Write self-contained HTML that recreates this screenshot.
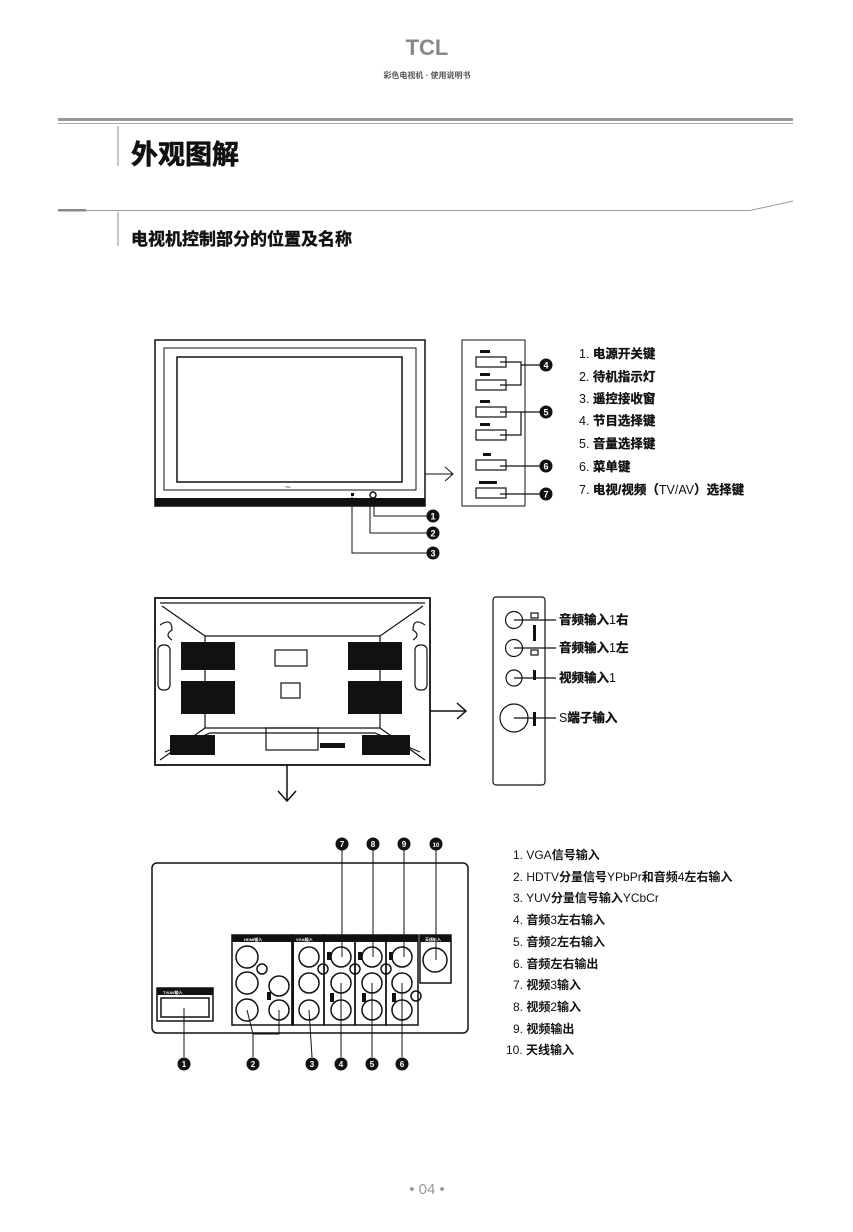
<!DOCTYPE html>
<html><head><meta charset="utf-8"><style>
html,body{margin:0;padding:0;background:#fff}
svg{display:block}
text{font-family:"Liberation Sans","Noto Sans CJK SC",sans-serif}
.b{font-weight:bold}
</style></head><body>
<svg width="853" height="1232" viewBox="0 0 853 1232" xmlns="http://www.w3.org/2000/svg">
<!-- header -->
<text x="427" y="55" text-anchor="middle" font-size="22" font-weight="bold" fill="#888">TCL</text>
<text x="427" y="78" text-anchor="middle" font-size="8" font-weight="bold" fill="#555">彩色电视机 · 使用说明书</text>
<rect x="58" y="118" width="735" height="3" fill="#999"/>
<rect x="58" y="123" width="735" height="1" fill="#aaa"/>
<line x1="118" y1="126" x2="118" y2="166" stroke="#888" stroke-width="1"/>
<text x="131" y="164" font-size="27" font-weight="bold" fill="#111" stroke="#111" stroke-width="0.6">外观图解</text>
<rect x="58" y="209" width="28" height="2.5" fill="#888"/>
<polyline points="86,210.5 750,210.5 793,201" fill="none" stroke="#999" stroke-width="1"/>
<line x1="118" y1="212" x2="118" y2="246" stroke="#888"/>
<text x="131" y="245" font-size="17" font-weight="bold" fill="#111" stroke="#111" stroke-width="0.4">电视机控制部分的位置及名称</text>

<!-- front TV -->
<g fill="none" stroke="#111">
<rect x="155" y="340" width="270" height="166" stroke-width="1.5"/>
<rect x="164" y="348" width="252" height="142" stroke-width="1"/>
<rect x="177" y="357" width="225" height="125" stroke-width="1.5"/>
</g>
<rect x="155" y="498" width="270" height="8" fill="#111"/>
<text x="288" y="488" font-size="3" text-anchor="middle">TCL</text>
<rect x="351" y="493" width="3" height="3" fill="#111"/>
<circle cx="373" cy="495" r="3" fill="none" stroke="#111" stroke-width="1.5"/>
<g stroke="#111" fill="none" stroke-width="1">
<polyline points="374,498 374,516 428,516"/>
<polyline points="370,498 370,533 428,533"/>
<polyline points="352,497 352,553 428,553"/>
<polyline points="425,474 452,474"/><polyline points="445,467 453,474 445,481"/>
</g>
<g font-size="9" font-weight="bold" fill="#fff" text-anchor="middle">
<circle cx="433" cy="516" r="6.5" fill="#111"/><text x="433" y="519.5">1</text>
<circle cx="433" cy="533" r="6.5" fill="#111"/><text x="433" y="536.5">2</text>
<circle cx="433" cy="553" r="6.5" fill="#111"/><text x="433" y="556.5">3</text>
</g>
<!-- panel -->
<rect x="462" y="340" width="63" height="166" fill="none" stroke="#111"/>
<g fill="none" stroke="#111" stroke-width="1.2">
<rect x="476" y="357" width="30" height="10"/>
<rect x="476" y="380" width="30" height="10"/>
<rect x="476" y="407" width="30" height="10"/>
<rect x="476" y="430" width="30" height="10"/>
<rect x="476" y="460" width="30" height="10"/>
<rect x="476" y="488" width="30" height="10"/>
<polyline points="500,362 521,362 521,385 500,385"/><line x1="521" y1="365" x2="540" y2="365"/>
<polyline points="500,412 521,412 521,435 500,435"/><line x1="521" y1="412" x2="540" y2="412"/>
<line x1="500" y1="466" x2="540" y2="466"/>
<line x1="500" y1="494" x2="540" y2="494"/>
</g>
<g fill="#111"><rect x="480" y="350" width="10" height="3"/><rect x="480" y="373" width="10" height="3"/><rect x="480" y="400" width="10" height="3"/><rect x="480" y="423" width="10" height="3"/><rect x="483" y="453" width="8" height="3"/><rect x="479" y="481" width="18" height="3"/></g>
<g font-size="9" font-weight="bold" fill="#fff" text-anchor="middle">
<circle cx="546" cy="365" r="6.5" fill="#111"/><text x="546" y="368.5">4</text>
<circle cx="546" cy="412" r="6.5" fill="#111"/><text x="546" y="415.5">5</text>
<circle cx="546" cy="466" r="6.5" fill="#111"/><text x="546" y="469.5">6</text>
<circle cx="546" cy="494" r="6.5" fill="#111"/><text x="546" y="497.5">7</text>
</g>
<g font-size="12.5" fill="#111">
<text x="579" y="358">1.  <tspan class="b" stroke="#111" stroke-width="0.3">电源开关键</tspan></text>
<text x="579" y="381">2.  <tspan class="b" stroke="#111" stroke-width="0.3">待机指示灯</tspan></text>
<text x="579" y="403">3.  <tspan class="b" stroke="#111" stroke-width="0.3">遥控接收窗</tspan></text>
<text x="579" y="425">4.  <tspan class="b" stroke="#111" stroke-width="0.3">节目选择键</tspan></text>
<text x="579" y="448">5.  <tspan class="b" stroke="#111" stroke-width="0.3">音量选择键</tspan></text>
<text x="579" y="471">6.  <tspan class="b" stroke="#111" stroke-width="0.3">菜单键</tspan></text>
<text x="579" y="494">7.  <tspan class="b" stroke="#111" stroke-width="0.3">电视/视频（</tspan>TV/AV<tspan class="b" stroke="#111" stroke-width="0.3">）选择键</tspan></text>
</g>

<!-- back TV -->
<g fill="none" stroke="#111" stroke-width="1.2">
<rect x="155" y="598" width="275" height="167" stroke-width="1.8"/>
<polyline points="160,603 425,603"/>
<polyline points="162,606 205,636 380,636 423,606"/>
<polyline points="205,636 205,728"/><polyline points="380,636 380,728"/>
<polyline points="160,760 205,728 380,728 425,760"/>
<polyline points="165,752 210,733 375,733 420,752"/>
<rect x="275" y="650" width="32" height="16"/>
<rect x="281" y="683" width="19" height="15"/>
<rect x="266" y="728" width="52" height="22"/>
<path d="M160,625 q12,-8 12,5 q-8,5 0,10 M425,625 q-12,-8 -12,5 q8,5 0,10"/>
<rect x="158" y="645" width="12" height="45" rx="5"/><rect x="415" y="645" width="12" height="45" rx="5"/>
</g>
<g fill="#111">
<rect x="181" y="642" width="54" height="28"/><rect x="181" y="681" width="54" height="33"/>
<rect x="348" y="642" width="54" height="28"/><rect x="348" y="681" width="54" height="33"/>
<rect x="170" y="735" width="45" height="20"/><rect x="362" y="735" width="48" height="20"/>
<rect x="320" y="743" width="25" height="5"/>
</g>
<g stroke="#111" fill="none" stroke-width="1.5">
<polyline points="430,711 465,711"/><polyline points="457,703 466,711 457,719"/>
<line x1="287" y1="765" x2="287" y2="800"/><polyline points="278,791 287,801 296,791"/>
</g>
<rect x="493" y="597" width="52" height="188" rx="3" fill="none" stroke="#111" stroke-width="1.2"/>
<g fill="none" stroke="#111" stroke-width="1.2">
<circle cx="514" cy="620" r="8.5"/><circle cx="514" cy="648" r="8.5"/><circle cx="514" cy="678" r="8"/><circle cx="514" cy="718" r="14"/>
<line x1="514" y1="620" x2="556" y2="620"/><line x1="514" y1="648" x2="556" y2="648"/>
<line x1="514" y1="678" x2="556" y2="678"/><line x1="514" y1="718" x2="556" y2="718"/>
<rect x="531" y="613" width="7" height="5"/><rect x="531" y="650" width="7" height="5"/>
</g>
<g fill="#111"><rect x="533" y="625" width="3" height="16"/><rect x="533" y="670" width="3" height="10"/><rect x="533" y="712" width="3" height="14"/></g>
<g font-size="12.5" fill="#111">
<text x="559" y="624" class="b" stroke="#111" stroke-width="0.3">音频输入<tspan font-weight="normal" stroke="none">1</tspan>右</text>
<text x="559" y="652" class="b" stroke="#111" stroke-width="0.3">音频输入<tspan font-weight="normal" stroke="none">1</tspan>左</text>
<text x="559" y="682" class="b" stroke="#111" stroke-width="0.3">视频输入<tspan font-weight="normal" stroke="none">1</tspan></text>
<text x="559" y="722"><tspan>S</tspan><tspan class="b" stroke="#111" stroke-width="0.3">端子输入</tspan></text>
</g>

<!-- bottom panel -->
<rect x="152" y="863" width="316" height="170" rx="5" fill="none" stroke="#111" stroke-width="1.5"/>
<rect x="157" y="988" width="56" height="33" fill="none" stroke="#111" stroke-width="1.5"/>
<rect x="157" y="988" width="56" height="7" fill="#111"/>
<rect x="161" y="998" width="48" height="19" fill="none" stroke="#111" stroke-width="1.5"/>
<g fill="none" stroke="#111" stroke-width="1.5">
<rect x="232" y="935" width="60" height="90"/>
<rect x="292" y="935" width="32" height="90"/><rect x="324" y="935" width="31" height="90"/><rect x="355" y="935" width="31" height="90"/><rect x="386" y="935" width="32" height="90"/>
<rect x="420" y="935" width="31" height="48"/>
</g>
<g fill="#111">
<rect x="232" y="935" width="60" height="7"/><rect x="292" y="935" width="126" height="7"/><rect x="420" y="935" width="31" height="7"/>
<rect x="292" y="940" width="2" height="85"/>
</g>
<g fill="#fff" font-size="4" font-weight="bold"><text x="244" y="941">HDMI输入</text><text x="296" y="941">VGA输入</text><text x="163" y="994">TV/AV输入</text><text x="425" y="941">天线输入</text></g>
<g fill="none" stroke="#111" stroke-width="1.5">
<circle cx="247" cy="957" r="11"/><circle cx="247" cy="983" r="11"/><circle cx="247" cy="1010" r="11"/>
<circle cx="279" cy="986" r="10"/><circle cx="279" cy="1010" r="10"/><circle cx="262" cy="969" r="5"/>
<circle cx="309" cy="957" r="10"/><circle cx="309" cy="983" r="10"/><circle cx="309" cy="1010" r="10"/><circle cx="323" cy="969" r="5"/>
<circle cx="341" cy="957" r="10"/><circle cx="341" cy="983" r="10"/><circle cx="341" cy="1010" r="10"/><circle cx="355" cy="969" r="5"/>
<circle cx="372" cy="957" r="10"/><circle cx="372" cy="983" r="10"/><circle cx="372" cy="1010" r="10"/><circle cx="386" cy="969" r="5"/>
<circle cx="402" cy="957" r="10"/><circle cx="402" cy="983" r="10"/><circle cx="402" cy="1010" r="10"/><circle cx="416" cy="996" r="5"/>
<circle cx="435" cy="960" r="12"/>
</g>
<g fill="#111"><rect x="267" y="992" width="4" height="8"/><rect x="330" y="993" width="4" height="9"/><rect x="362" y="993" width="4" height="9"/><rect x="392" y="993" width="4" height="9"/>
<rect x="327" y="952" width="4" height="8"/><rect x="358" y="952" width="4" height="8"/><rect x="389" y="952" width="4" height="8"/></g>
<g stroke="#111" fill="none" stroke-width="1">
<line x1="342" y1="850" x2="342" y2="957"/><line x1="373" y1="850" x2="373" y2="957"/>
<line x1="404" y1="850" x2="404" y2="957"/><line x1="436" y1="850" x2="436" y2="960"/>
<line x1="184" y1="1008" x2="184" y2="1057"/>
<polyline points="247,1010 253,1034 253,1057"/><polyline points="279,1010 279,1034 253,1034"/>
<line x1="309" y1="1010" x2="312" y2="1057"/><line x1="341" y1="983" x2="341" y2="1057"/>
<line x1="372" y1="983" x2="372" y2="1057"/><line x1="402" y1="983" x2="402" y2="1057"/>
</g>
<g font-size="8" font-weight="bold" fill="#fff" text-anchor="middle">
<circle cx="342" cy="844" r="6.5" fill="#111"/><text x="342" y="847">7</text>
<circle cx="373" cy="844" r="6.5" fill="#111"/><text x="373" y="847">8</text>
<circle cx="404" cy="844" r="6.5" fill="#111"/><text x="404" y="847">9</text>
<circle cx="436" cy="844" r="6.5" fill="#111"/><text x="436" y="847" font-size="6">10</text>
<circle cx="184" cy="1064" r="6.5" fill="#111"/><text x="184" y="1067">1</text>
<circle cx="253" cy="1064" r="6.5" fill="#111"/><text x="253" y="1067">2</text>
<circle cx="312" cy="1064" r="6.5" fill="#111"/><text x="312" y="1067">3</text>
<circle cx="341" cy="1064" r="6.5" fill="#111"/><text x="341" y="1067">4</text>
<circle cx="372" cy="1064" r="6.5" fill="#111"/><text x="372" y="1067">5</text>
<circle cx="402" cy="1064" r="6.5" fill="#111"/><text x="402" y="1067">6</text>
</g>
<g font-size="12" fill="#111">
<text x="513" y="859">1. VGA<tspan class="b">信号输入</tspan></text>
<text x="513" y="881">2. HDTV<tspan class="b">分量信号</tspan>YPbPr<tspan class="b">和音频</tspan>4<tspan class="b">左右输入</tspan></text>
<text x="513" y="902">3. YUV<tspan class="b">分量信号输入</tspan>YCbCr</text>
<text x="513" y="924">4. <tspan class="b">音频</tspan>3<tspan class="b">左右输入</tspan></text>
<text x="513" y="946">5. <tspan class="b">音频</tspan>2<tspan class="b">左右输入</tspan></text>
<text x="513" y="968">6. <tspan class="b">音频左右输出</tspan></text>
<text x="513" y="989">7. <tspan class="b">视频</tspan>3<tspan class="b">输入</tspan></text>
<text x="513" y="1011">8. <tspan class="b">视频</tspan>2<tspan class="b">输入</tspan></text>
<text x="513" y="1033">9. <tspan class="b">视频输出</tspan></text>
<text x="506" y="1054">10. <tspan class="b">天线输入</tspan></text>
</g>
<text x="427" y="1194" text-anchor="middle" font-size="15" fill="#999">•  04  •</text>
</svg>
</body></html>
